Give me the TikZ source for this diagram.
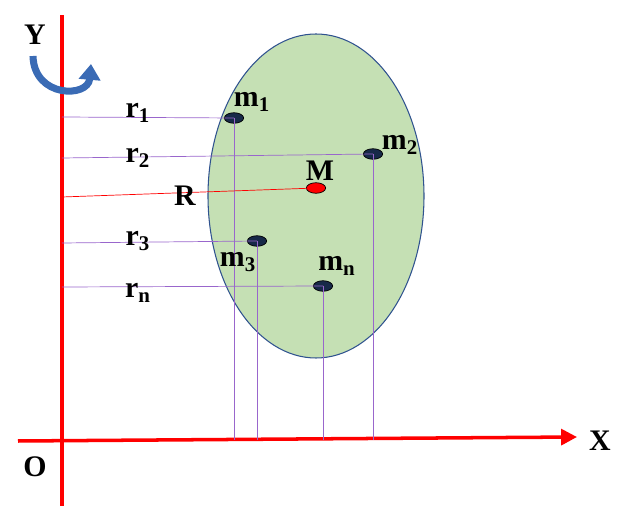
\documentclass[tikz,border=0pt]{standalone}
\usepackage{fontspec}
\setmainfont{Liberation Serif}
\usetikzlibrary{arrows.meta}
\definecolor{blobgreen}{HTML}{C5E0B4}
\definecolor{blobedge}{HTML}{2F528F}
\definecolor{linkpurple}{HTML}{9966CC}
\definecolor{turnblue}{HTML}{3A6BB5}
\tikzset{
  lbl/.style={font=\fontsize{17}{19}\selectfont\bfseries, inner sep=0pt},
  mass/.style={ellipse, draw=black, fill=blobedge!50!black, minimum width=11pt, minimum height=6pt, inner sep=0pt},
  link/.style={draw=linkpurple, line width=0.4pt},
}
\usetikzlibrary{shapes.geometric}
\begin{document}
\begin{tikzpicture}[x=0.02cm,y=-0.02cm]
\useasboundingbox (0,0) rectangle (633,506);
% Body
\draw[blobedge, fill=blobgreen, line width=0.6pt] (316,196) ellipse [x radius=108, y radius=162];
% Axes
\coordinate (ytop) at (62,15);
\coordinate (ybot) at (62,506);
\coordinate (xleft) at (18,441);
\coordinate (xright) at (577,437);
\draw[red, line width=2pt] (ybot) -- (ytop);
\draw[red, line width=2pt, -{Triangle[length=9pt,width=9pt]}] (xleft) -- (xright);
% Masses
\node[mass] (m1) at (234,118) {};
\node[mass] (m2) at (373,154) {};
\node[mass, fill=red] (mM) at (316,188) {};
\node[mass] (m3) at (257,241) {};
\node[mass] (mn) at (323,286) {};
% Distances to the axis
\foreach \p/\h in {m1/117,m2/158,m3/243,mn/287} {
  \draw[link] (62,\h) -- (\p.center);
  \draw[link] (\p.center) -- (\p |- 0,440);
}
\draw[red, line width=0.4pt] (62,197) -- (mM.center);
% Labels
\node[lbl] (ylab) at (35,35) {Y};
\node[lbl] (olab) at (35,467) {O};
\node[lbl] (xlab) at (600,441) {X};
\node[lbl] (r1) at (138,113) {r$_\mathbf{1}$};
\node[lbl] (r2) at (138,158) {r$_\mathbf{2}$};
\node[lbl] (rR) at (185,196) {R};
\node[lbl] (r3) at (138,241) {r$_\mathbf{3}$};
\node[lbl] (rn) at (138,293) {r$_\mathbf{n}$};
\node[lbl] (lm1) at (252,102) {m$_\mathbf{1}$};
\node[lbl] (lm2) at (400,145) {m$_\mathbf{2}$};
\node[lbl] (lM) at (320,171) {M};
\node[lbl] (lm3) at (238,262) {m$_\mathbf{3}$};
\node[lbl] (lmn) at (337,266) {m$_\mathbf{n}$};
% Rotation
\draw[turnblue, line width=4pt, -{Triangle[length=9pt,width=12pt]}] (33,56) .. controls (34,98) and (88,98) .. (91,64);
\end{tikzpicture}
\end{document}
